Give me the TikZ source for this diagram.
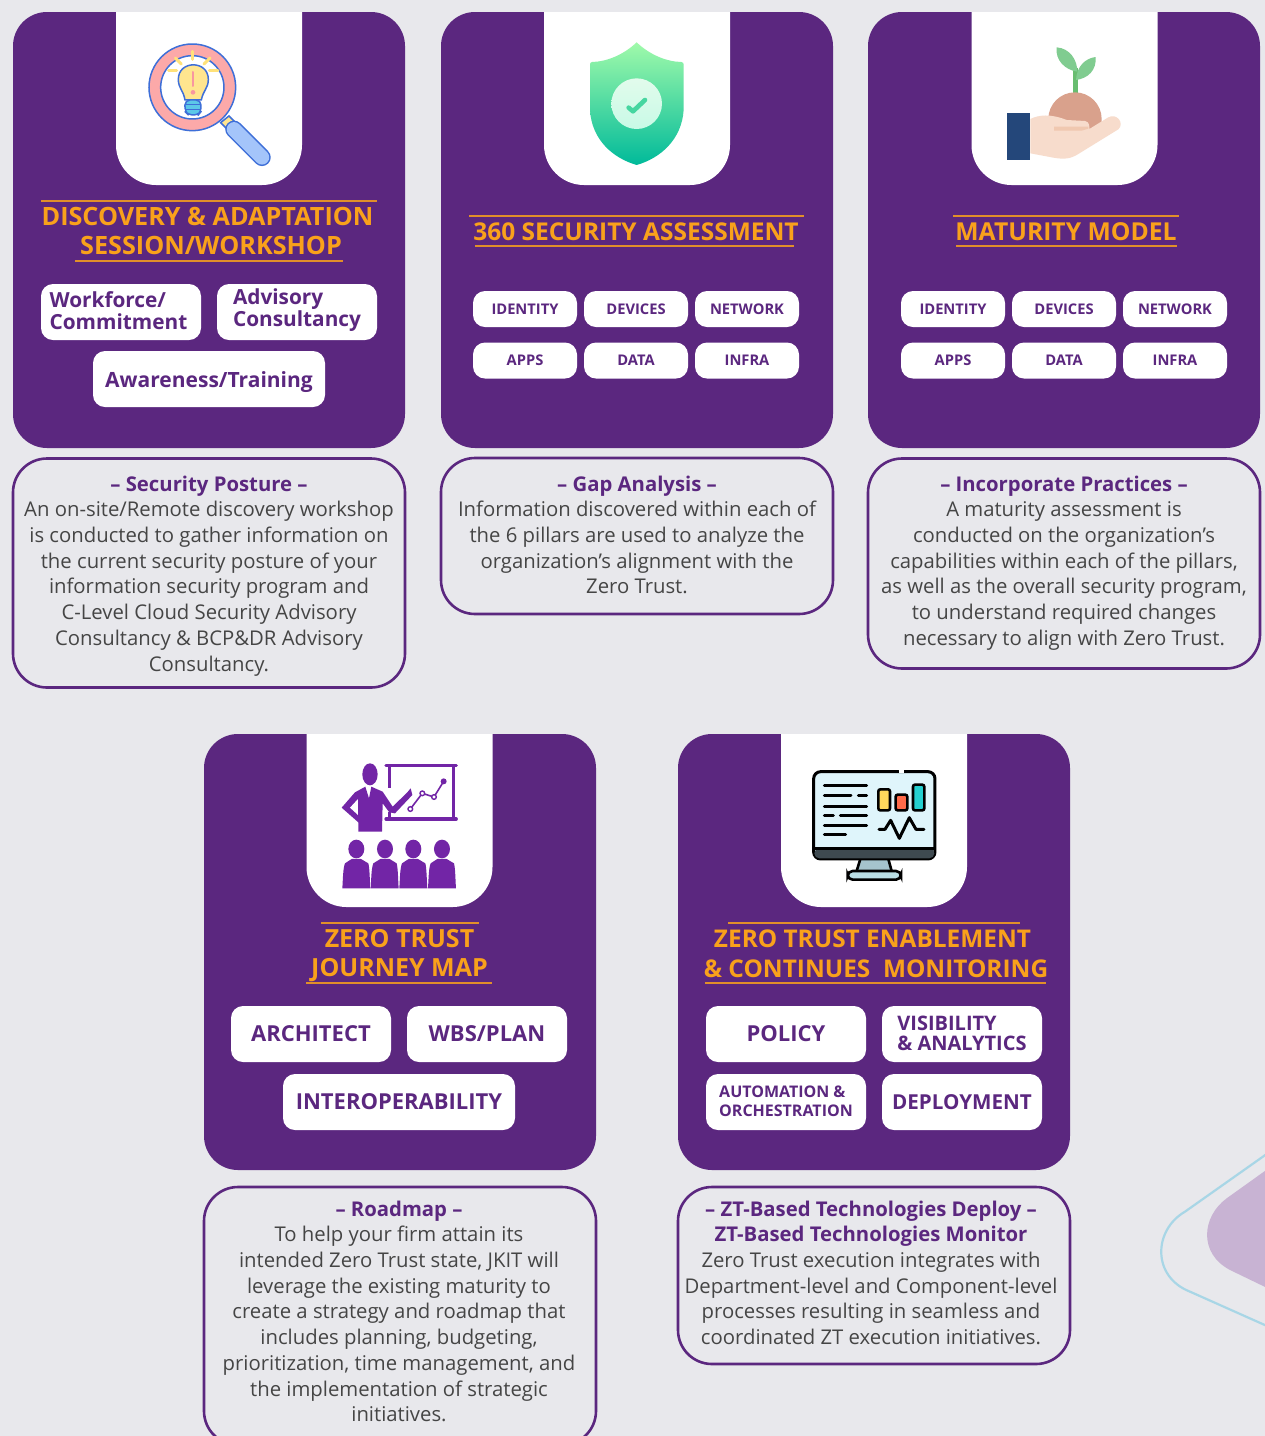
\documentclass[tikz,border=0pt]{standalone}
\usepackage{fontspec}
\setmainfont{Open Sans}
\usetikzlibrary{calc}
\definecolor{pagebg}{HTML}{E8E8EC}
\definecolor{cardc}{HTML}{5B277F}
\definecolor{headc}{HTML}{F9A11B}
\definecolor{bodyc}{HTML}{454545}
\definecolor{iconp}{HTML}{7225A6}
\definecolor{iconb}{HTML}{3E6FD8}
\definecolor{blobc}{HTML}{C8B3D3}
\definecolor{linec}{HTML}{A8D6E6}
\tikzset{
 cardbox/.style={fill=cardc,draw=none,rounded corners=34pt,minimum width=392pt,inner sep=0pt},
 pill/.style={fill=white,draw=none,rounded corners=12pt,inner sep=0pt,text=cardc,align=center},
 smallpill/.style={pill,minimum width=104pt,minimum height=36pt,font=\fontsize{14.7}{16}\selectfont\bfseries},
 bigpill/.style={pill,minimum width=160pt,minimum height=56pt,font=\fontsize{22}{22}\selectfont\bfseries},
 pilltext/.style={inner sep=0pt,text=cardc,align=left},
 descbox/.style={draw=cardc,line width=2.6pt,fill=none,rounded corners=34pt,minimum width=392pt,inner sep=0pt},
 desctext/.style={inner sep=0pt,text=bodyc,align=center,font=\fontsize{20.3}{25.7}\selectfont},
 headtext/.style={inner sep=0pt,text=headc,align=center,font=\fontsize{24.7}{29.7}\selectfont\bfseries},
 headrule/.style={draw=headc!85!cardc,line width=1.2pt},
}
\newcommand{\ttl}[1]{{\color{cardc}\bfseries #1}}
\newcommand{\tabshape}[2]{\fill[white] (#1,#2) [rounded corners=40pt] -- (#1,#2+173) -- (#1+186,#2+173) [sharp corners] -- (#1+186,#2) -- cycle;}
\begin{document}
\begin{tikzpicture}[x=1pt,y=-1pt]
\useasboundingbox (0,0) rectangle (1265,1436);
\clip (0,0) rectangle (1265,1436);
\fill[pagebg] (0,0) rectangle (1265,1436);
% corner decoration
\begin{scope}[shift={(1130,1130)},x=0.3333pt,y=-0.3333pt]
\fill[blobc] (420,112) -- (290,205) .. controls (215,260) and (205,370) .. (300,420) -- (420,478) -- cycle;
\draw[linec,line width=2.2pt] (420,65) -- (165,245) .. controls (70,300) and (65,440) .. (180,485) -- (420,592);
\end{scope}
% cards
\node[cardbox,minimum height=436pt] (card1) at (209,230) {};
\node[cardbox,minimum height=436pt] (card2) at (637,230) {};
\node[cardbox,minimum height=436pt] (card3) at (1064,230) {};
\node[cardbox,minimum height=436pt] (card4) at (400,952) {};
\node[cardbox,minimum height=436pt] (card5) at (874,952) {};
\tabshape{116}{12}\tabshape{544}{12}\tabshape{971.5}{12}\tabshape{306.5}{734}\tabshape{781}{734}
% magnifier
\begin{scope}[shift={(100,10)},x=0.3333pt,y=-0.3333pt]
\draw[draw=iconb,line width=1.5pt,fill={rgb,255:red,252;green,169;blue,169}] (277,232) circle[radius=130];
\draw[draw=iconb,line width=1.5pt,fill=white] (277,232) circle[radius=95];
\begin{scope}[line width=3pt,line cap=round,draw={rgb,255:red,255;green,226;blue,122}]
\draw (278,124)--(278,148);\draw (226,144)--(244,162);\draw (330,144)--(312,162);\draw (206,183)--(230,183);\draw (328,183)--(354,183);
\end{scope}
\draw[draw=iconb,line width=1.5pt,fill={rgb,255:red,255;green,229;blue,143}] (255,270) .. controls (250,240) and (235,235) .. (235,208) .. controls (235,150) and (325,150) .. (325,208) .. controls (325,235) and (310,240) .. (304,270) -- cycle;
\draw[line width=2pt,draw={rgb,255:red,248;green,150;blue,160},line cap=round] (279,186)--(279,228);
\fill[fill={rgb,255:red,248;green,150;blue,160}] (279,247) circle[radius=7];
\draw[draw=iconb,line width=1.5pt,fill={rgb,255:red,92;green,200;blue,232},rounded corners=5pt] (255,270) -- (255,305) -- (265,315) -- (295,315) -- (303,305) -- (303,270) -- cycle;
\draw[draw=iconb,line width=1pt] (257,283)--(301,283) (257,298)--(301,298);
\draw[draw=iconb,line width=1.5pt,fill={rgb,255:red,255;green,229;blue,143}] (387,318)--(405,336)--(382,358)--(362,338)--cycle;
\draw[draw=iconb,line width=17.5pt,line cap=round] (402,358)--(486,442);
\draw[draw={rgb,255:red,164;green,197;blue,250},line width=14.5pt,line cap=round] (402,358)--(486,442);
\end{scope}
% shield
\begin{scope}[shift={(540,10)},x=0.3333pt,y=-0.3333pt]
\shade[top color={rgb,255:red,160;green,250;blue,170},bottom color={rgb,255:red,0;green,186;blue,154}] (290,97) .. controls (330,135) and (380,155) .. (424,156) .. controls (430,156) and (431,160) .. (431,165) -- (431,300) .. controls (425,390) and (360,445) .. (290,465) .. controls (220,445) and (155,390) .. (150,300) -- (150,165) .. controls (150,160) and (151,156) .. (156,156) .. controls (200,155) and (250,135) .. (290,97) -- cycle;
\shade[top color={rgb,255:red,226;green,251;blue,236},bottom color={rgb,255:red,200;green,250;blue,230}] (290,281) circle[radius=76];
\draw[draw={rgb,255:red,70;green,214;blue,160},line width=4.6pt,line cap=round,line join=round] (266,293)--(279,304)--(315,270);
\end{scope}
% plant in hand
\begin{scope}[shift={(970,10)},x=0.3333pt,y=-0.3333pt]
\fill[fill={rgb,255:red,104;green,189;blue,112}] (308,175)--(323,175)--(323,250)--(308,250)--cycle;
\fill[fill={rgb,255:red,128;green,204;blue,144}] (260,112) .. controls (300,115) and (322,150) .. (322,185) .. controls (285,180) and (255,150) .. (260,112) -- cycle;
\fill[fill={rgb,255:red,128;green,204;blue,144}] (377,141) .. controls (345,145) and (320,170) .. (318,210) .. controls (355,205) and (380,180) .. (377,141) -- cycle;
\fill[fill={rgb,255:red,217;green,161;blue,140}] (235,327) arc[start angle=180,end angle=360,radius=80] -- (395,365) -- (235,365) -- cycle;
\fill[fill={rgb,255:red,247;green,220;blue,204}] (181,327) .. controls (205,315) and (240,310) .. (290,330) -- (345,333) .. controls (360,335) and (358,352) .. (358,357) -- (415,322) .. controls (440,308) and (465,340) .. (445,358) -- (325,432) .. controls (300,448) and (280,448) .. (250,443) -- (181,430) -- cycle;
\fill[fill={rgb,255:red,240;green,200;blue,176}] (252,350)--(355,350)--(355,356)--(335,362)--(252,362)--cycle;
\fill[fill={rgb,255:red,36;green,71;blue,122}] (110,310) rectangle (181,451);
\end{scope}
% presenter
\begin{scope}[shift={(300,735)},x=0.3333pt,y=-0.3333pt,fill=iconp,draw=iconp]
\fill (210,118) ellipse[x radius=23,y radius=33];
\fill (175,290) -- (175,262) -- (150,240) -- (125,218) -- (165,172) -- (196,155) -- (207,190) -- (214,155) -- (248,170) -- (278,215) -- (322,172) -- (332,160) -- (337,180) -- (285,235) -- (268,232) -- (248,205) -- (246,290) -- cycle;
\fill[fill=white] (150,218) -- (174,192) -- (174,240) -- cycle;
\draw[line width=3.2pt,line cap=round] (258,91)--(469,91) (258,252)--(469,252);
\draw[line width=3pt] (268,91)--(268,160) (268,232)--(268,252) (460,91)--(460,252);
\draw[line width=1.6pt] (331,222)--(367,175)--(402,186)--(431,139);
\draw[line width=1.4pt,fill=white] (331,222) circle[radius=7] (367,175) circle[radius=7] (402,186) circle[radius=7];
\fill (431,139) circle[radius=9];
\foreach \hx/\bx in {169/127,255/212,340/298,426/384}{
 \fill (\hx,342) ellipse[x radius=24,y radius=28];
 \fill (\bx,460) .. controls (\bx+2,430) and (\bx+2,400) .. (\bx+8,385) -- (\hx-14,372) -- (\hx+14,372) -- (\bx+78,385) .. controls (\bx+82,400) and (\bx+82,430) .. (\bx+84,460) -- cycle;
}
\end{scope}
% monitor
\begin{scope}[shift={(775,735)},x=0.3333pt,y=-0.3333pt]
\fill[fill={rgb,255:red,165;green,195;blue,205}] (256,372)--(340,372)--(350,408)--(245,408)--cycle;
\draw[black,line width=2.6pt] (256,372)--(245,408) (340,372)--(350,408);
\draw[black,line width=2.6pt,fill={rgb,255:red,185;green,222;blue,228},rounded corners=5pt] (218,408) rectangle (378,434);
\draw[black,line width=3pt,fill={rgb,255:red,223;green,245;blue,251},rounded corners=7pt] (116,110) rectangle (480,372);
\fill[fill={rgb,255:red,62;green,74;blue,80},rounded corners=5pt] (118,340) rectangle (478,370);
\draw[black,line width=2.4pt] (118,340)--(478,340);
\draw[white,line width=3.4pt] (371,110)--(386,110);
\begin{scope}[black,line width=3pt,line cap=round]
\draw (148,151)--(275,151) (148,180)--(228,180) (250,180)--(275,180) (148,213)--(275,213) (148,241)--(175,241) (196,241)--(275,241) (148,270)--(275,270) (148,298)--(212,298);
\draw[line join=round] (312,283)--(330,283)--(347,256)--(373,310)--(403,248)--(423,283)--(447,283);
\end{scope}
\draw[black,line width=2.6pt,fill={rgb,255:red,255;green,216;blue,92},rounded corners=2pt] (310,163) rectangle (345,226);
\draw[black,line width=2.6pt,fill={rgb,255:red,255;green,107;blue,74},rounded corners=2pt] (362,179) rectangle (397,226);
\draw[black,line width=2.6pt,fill={rgb,255:red,37;green,208;blue,208},rounded corners=2pt] (414,149) rectangle (448,226);
\end{scope}
% heading rules
\draw[headrule] (41,201)--(377,201) (75,261)--(343,261);
\draw[headrule] (469,216)--(804,216) (475,246)--(794,246);
\draw[headrule] (953,216)--(1179,216) (956,246)--(1177,246);
\draw[headrule] (321,923)--(479,923) (306,983)--(492,983);
\draw[headrule] (728,923)--(1020,923) (705,983)--(1046,983);
% headings
\node[headtext,font=\fontsize{25.2}{29.7}\selectfont\bfseries] (h1) at (207.5,231) {DISCOVERY \& ADAPTATION\\\hspace*{7pt}SESSION/WORKSHOP};
\node[headtext,font=\fontsize{24.5}{29.7}\selectfont\bfseries] (h2) at (636,231.5) {360 SECURITY ASSESSMENT};
\node[headtext] (h3) at (1066,231.5) {MATURITY MODEL};
\node[headtext,font=\fontsize{25}{29.7}\selectfont\bfseries] (h4) at (399.5,955.5) {ZERO TRUST\\JOURNEY MAP};
\node[headtext,font=\fontsize{24.4}{29.7}\selectfont\bfseries] (h5) at (876,953.5) {ZERO TRUST ENABLEMENT\hspace*{7pt}\\\& CONTINUES\ \ MONITORING};
% pills card1
\node[bigpill] (p11) at (121,312) {};
\node[pilltext,font=\fontsize{20.8}{22}\selectfont\bfseries] (p11t) at (118.5,310.5) {Workforce/\\Commitment};
\node[bigpill] (p12) at (297,312) {};
\node[pilltext,font=\fontsize{20.8}{22}\selectfont\bfseries] (p12t) at (297,310.5) {Advisory\\Consultancy};
\node[bigpill,minimum width=232pt,font=\fontsize{21}{22}\selectfont\bfseries,text height=16pt,text depth=0pt] (p13) at (209,379) {Awareness/Training};
% pills card2
\foreach \n/\t/\x/\y in {a/IDENTITY/525/309,b/DEVICES/636/309,c/NETWORK/747/309,d/APPS/525/360.5,e/DATA/636/360.5,f/INFRA/747/360.5}{\node[smallpill] (q\n) at (\x,\y) {\t};}
% pills card3
\foreach \n/\t/\x/\y in {a/IDENTITY/953/309,b/DEVICES/1064/309,c/NETWORK/1175/309,d/APPS/953/360.5,e/DATA/1064/360.5,f/INFRA/1175/360.5}{\node[smallpill] (r\n) at (\x,\y) {\t};}
% pills card4
\node[bigpill] (p41) at (311,1034) {ARCHITECT};
\node[bigpill] (p42) at (487,1034) {WBS/PLAN};
\node[bigpill,minimum width=232pt] (p43) at (399,1102) {INTEROPERABILITY};
% pills card5
\node[bigpill] (p51) at (786,1034) {POLICY};
\node[bigpill] (p52) at (962,1034) {};
\node[pilltext,font=\fontsize{20}{20.5}\selectfont\bfseries] (p52t) at (962,1033.5) {VISIBILITY\\\& ANALYTICS};
\node[bigpill] (p53) at (786,1102) {};
\node[pilltext,font=\fontsize{16}{18.5}\selectfont\bfseries] (p53t) at (786,1101.5) {AUTOMATION \&\\ORCHESTRATION};
\node[bigpill,font=\fontsize{20.6}{22}\selectfont\bfseries] (p54) at (962,1102) {DEPLOYMENT};
% description frames
\node[descbox,minimum height=229pt] (d1) at (209,573) {};
\node[descbox,minimum height=156pt] (d2) at (637,536) {};
\node[descbox,minimum height=210pt] (d3) at (1064,563.5) {};
\node[descbox,minimum height=258pt] (d4) at (400,1316) {};
\node[descbox,minimum height=177pt] (d5) at (874,1275.5) {};
% description texts
\node[desctext,anchor=north] (t1) at (209,475.5) {\ttl{– Security Posture –}\\An on-site/Remote discovery workshop\\is conducted to gather information on\\the current security posture of your\\information security program and\\C-Level Cloud Security Advisory\\Consultancy \& BCP\&DR Advisory\\Consultancy.};
\node[desctext,anchor=north] (t2) at (637,475.5) {\ttl{– Gap Analysis –}\\Information discovered within each of\\the 6 pillars are used to analyze the\\organization’s alignment with the\\Zero Trust.};
\node[desctext,anchor=north] (t3) at (1064,475.5) {\ttl{– Incorporate Practices –}\\A maturity assessment is\\conducted on the organization's\\capabilities within each of the pillars,\\as well as the overall security program,\\to understand required changes\\necessary to align with Zero Trust.};
\node[desctext,anchor=north] (t4) at (399,1200.5) {\ttl{– Roadmap –}\\To help your firm attain its\\intended Zero Trust state, JKIT will\\leverage the existing maturity to\\create a strategy and roadmap that\\includes planning, budgeting,\\prioritization, time management, and\\the implementation of strategic\\initiatives.};
\node[desctext,anchor=north] (t5) at (871,1200.5) {\ttl{– ZT-Based Technologies Deploy –}\\\ttl{ZT-Based Technologies Monitor}\\Zero Trust execution integrates with\\Department-level and Component-level\\processes resulting in seamless and\\coordinated ZT execution initiatives.};
\end{tikzpicture}
\end{document}
